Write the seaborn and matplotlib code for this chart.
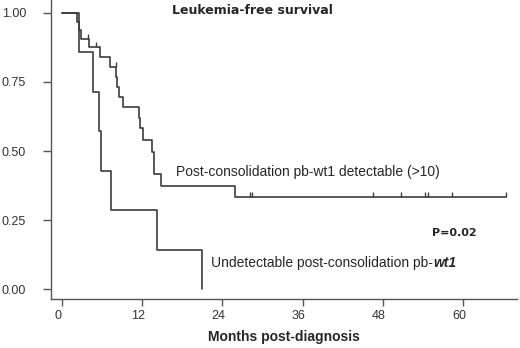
import numpy as np
import pandas as pd
import matplotlib
matplotlib.use("Agg")
import matplotlib.pyplot as plt
import matplotlib.transforms as mtransforms
import seaborn as sns

# Kaplan-Meier steps
det_months = [0, 2.2, 2.5, 2.9, 4.1, 5.7, 7.2, 8.1, 8.2, 8.6, 9.2, 11.5, 11.7, 12.1,
              13.4, 13.7, 13.8, 14.8, 25.9, 66.4]
det_surv = [1.0, 0.969, 0.938, 0.906, 0.875, 0.842, 0.806, 0.769, 0.733, 0.697, 0.660,
            0.620, 0.582, 0.540, 0.497, 0.455, 0.417, 0.373, 0.333, 0.333]
und_months = [0, 2.5, 4.7, 5.5, 5.9, 7.4, 14.2, 20.9]
und_surv = [1.0, 0.857, 0.714, 0.571, 0.429, 0.286, 0.143, 0.0]

# censored observations
cens_months = [3.9, 5.1, 8.1, 28.1, 28.5, 46.6, 50.8, 54.3, 54.8, 58.4, 66.4]
cens_surv = [0.906, 0.875, 0.806, 0.333, 0.333, 0.333, 0.333, 0.333, 0.333, 0.333, 0.333]

x_ticks = [0, 12, 24, 36, 48, 60]
y_ticks = [0.0, 0.25, 0.5, 0.75, 1.0]

df = pd.concat([
    pd.DataFrame({"month": det_months, "surv": det_surv, "group": "detectable"}),
    pd.DataFrame({"month": und_months, "surv": und_surv, "group": "undetectable"}),
])
cens = pd.DataFrame({"month": cens_months, "surv": cens_surv})

sns.set_style("ticks")
plt.rcParams["font.family"] = ["Liberation Sans", "DejaVu Sans"]

line_col = "#3c3c3c"
fig = plt.figure(figsize=(5.2, 3.48), dpi=100)
ax = fig.add_axes([51 / 520, 1 - 299 / 348, 466 / 520, 299 / 348])

sns.lineplot(data=df, x="month", y="surv", hue="group", estimator=None, sort=False,
             drawstyle="steps-post", palette={"detectable": line_col, "undetectable": line_col},
             linewidth=1.2, legend=False, ax=ax)
sns.scatterplot(data=cens, x="month", y="surv", marker=[(0, 0), (0, 1)], s=60,
                color=line_col, edgecolor=line_col, linewidth=1.0, legend=False, ax=ax)

ax.set_xlim(-1.65, 68.1)
ax.set_ylim(-0.036, 1.047)
ax.set_xticks(x_ticks)
ax.set_xticklabels([str(t) for t in x_ticks])
ax.set_yticks(y_ticks)
ax.set_yticklabels([f"{t:.2f}" for t in y_ticks])

for side in ["top", "right"]:
    ax.spines[side].set_visible(False)
for side in ["left", "bottom"]:
    ax.spines[side].set_color("#555555")
    ax.spines[side].set_linewidth(1.0)
ax.tick_params(axis="y", length=6, width=1, color="#555555", labelsize=9,
               labelcolor="#333333", pad=12)
ax.tick_params(axis="x", length=5, width=1, color="#555555", labelsize=9,
               labelcolor="#333333", pad=3)
offset = mtransforms.ScaledTranslation(-4 / 100, 0, fig.dpi_scale_trans)
for lab in ax.get_xticklabels():
    lab.set_transform(lab.get_transform() + offset)

ax.set_xlabel("Months post-diagnosis", fontsize=10, fontweight="bold", labelpad=6)
ax.set_ylabel("")

ax.text(16.5, 1.01, "Leukemia-free survival", fontsize=9, fontweight="bold",
        family="DejaVu Sans", va="center", ha="left")
ax.text(17.1, 0.424, "Post-consolidation pb-wt1 detectable (>10)", fontsize=10,
        va="center", ha="left")
ax.text(55.4, 0.203, "P=0.02", fontsize=8, fontweight="bold", family="DejaVu Sans",
        va="center", ha="left")
t1 = ax.text(22.3, 0.094, "Undetectable post-consolidation pb-", fontsize=10,
             va="center", ha="left")
ax.annotate("wt1", xy=(1, 0), xycoords=t1, va="bottom", ha="left", fontsize=10,
            fontstyle="italic", fontweight="bold")

fig.savefig("out.png", dpi=100)
